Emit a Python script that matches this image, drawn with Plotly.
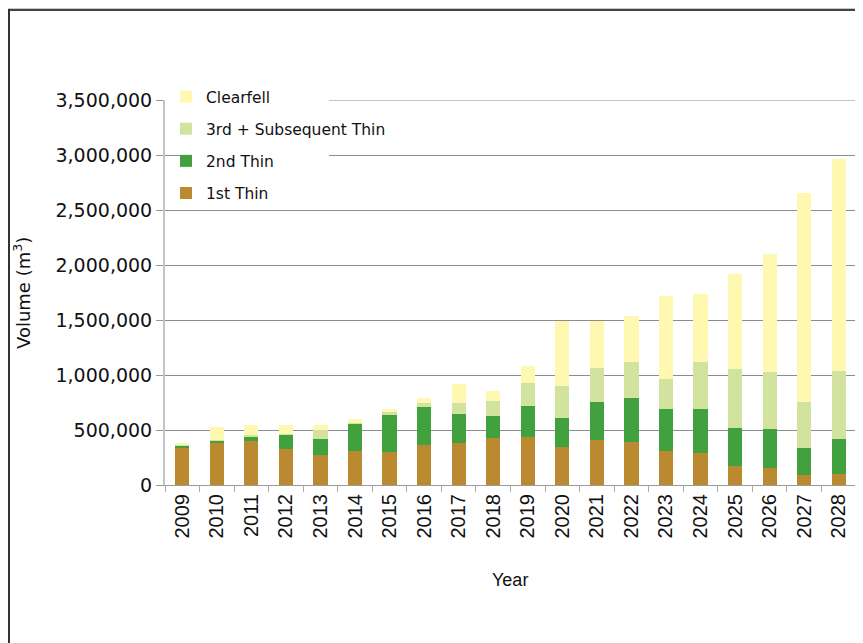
import plotly.graph_objects as go

years = [str(y) for y in range(2009, 2029)]
first_thin = [340, 385, 400, 325, 270, 305, 297, 360, 380, 424, 436, 342, 409, 394, 312, 291, 173, 155, 91, 100]
second_thin = [20, 20, 45, 133, 145, 255, 345, 345, 262, 200, 282, 270, 348, 400, 382, 403, 345, 354, 245, 318]
third_thin = [5, 5, 10, 9, 82, 6, 18, 45, 100, 136, 209, 291, 310, 327, 273, 427, 537, 521, 421, 618]
clearfell = [15, 120, 90, 82, 52, 30, 28, 45, 173, 91, 155, 585, 421, 418, 754, 618, 866, 1073, 1898, 1928]
y_ticks = [0, 500000, 1000000, 1500000, 2000000, 2500000, 3000000, 3500000]

series = [
    ("1st Thin", first_thin, "#BB8930", 4),
    ("2nd Thin", second_thin, "#41A13E", 3),
    ("3rd + Subsequent Thin", third_thin, "#D1E39E", 2),
    ("Clearfell", clearfell, "#FFF8B0", 1),
]

# page body has an 8px default margin; figure is sized to fit the window
OFF = 8
W, H = 863 - OFF, 643 - OFF
PL, PT, PR, PB = 165, 100, 856, 485  # plot area in page pixels
L, T = PL - OFF, PT - OFF
PW, PH = PR - PL, PB - PT
R, B = W - L - PW, H - T - PH


def px(x):
    return (x - PL) / PW


def py(y):
    return (PB - y) / PH


fig = go.Figure()
for name, vals, color, rank in series:
    fig.add_trace(go.Bar(
        x=years, y=[v * 1000 for v in vals], name=name,
        marker=dict(color=color, line=dict(width=0)),
        legendgroup=name, legendrank=rank,
    ))

shapes = [
    dict(type="line", xref="paper", yref="paper", x0=px(OFF), x1=px(863), y0=py(8.5), y1=py(8.5),
         line=dict(color="#c8c8c8", width=1)),
    dict(type="line", xref="paper", yref="paper", x0=px(OFF), x1=px(863), y0=py(10), y1=py(10),
         line=dict(color="#444444", width=2)),
    dict(type="line", xref="paper", yref="paper", x0=px(9), x1=px(9), y0=py(9), y1=py(643),
         line=dict(color="#333333", width=2)),
    dict(type="rect", xref="paper", yref="paper", x0=px(180), x1=px(329), y0=py(86), y1=py(205),
         fillcolor="white", line=dict(width=0), layer="above"),
    # top gridline (at the range edge) right of the legend
    dict(type="line", xref="paper", yref="y", x0=px(329), x1=1, y0=y_ticks[-1], y1=y_ticks[-1],
         line=dict(color="#8c8c8c", width=1), layer="below"),
]

annotations = [
    dict(text="Volume (m<sup>3</sup>)", xref="paper", yref="paper", x=px(22), y=py(293),
         textangle=-90, showarrow=False, xanchor="center", yanchor="middle",
         font=dict(family="DejaVu Sans", size=18, color="#111")),
    dict(text="Year", xref="paper", yref="paper", x=px(510), y=py(580),
         showarrow=False, xanchor="center", yanchor="middle",
         font=dict(family="Liberation Sans", size=18, color="#111")),
]

fig.update_layout(
    width=W, height=H,
    margin=dict(l=L, r=R, t=T, b=B, autoexpand=False),
    barmode="stack", bargap=0.59,
    plot_bgcolor="white", paper_bgcolor="white",
    shapes=shapes, annotations=annotations,
    legend=dict(
        x=px(166), y=py(80), xanchor="left", yanchor="top",
        traceorder="grouped", tracegroupgap=9,
        bgcolor="rgba(0,0,0,0)",
        font=dict(family="DejaVu Sans", size=15.5, color="#111"),
    ),
    xaxis=dict(
        type="category", tickangle=-90, showline=True, linecolor="#9a9a9a", linewidth=1,
        ticks="outside", tickson="boundaries", ticklen=6, tickcolor="#aaaaaa",
        showgrid=False, tickfont=dict(family="Liberation Sans", size=20, color="#111"),
    ),
    yaxis=dict(
        range=[0, y_ticks[-1]], tickvals=y_ticks, tickformat=",",
        showline=True, linecolor="#c4c4c4", linewidth=2,
        ticks="outside", ticklen=7, tickcolor="#999999",
        gridcolor="#8c8c8c", gridwidth=1, zeroline=False,
        tickfont=dict(family="DejaVu Sans", size=19, color="#111"),
    ),
    showlegend=True,
)

fig.write_html("out.html")
